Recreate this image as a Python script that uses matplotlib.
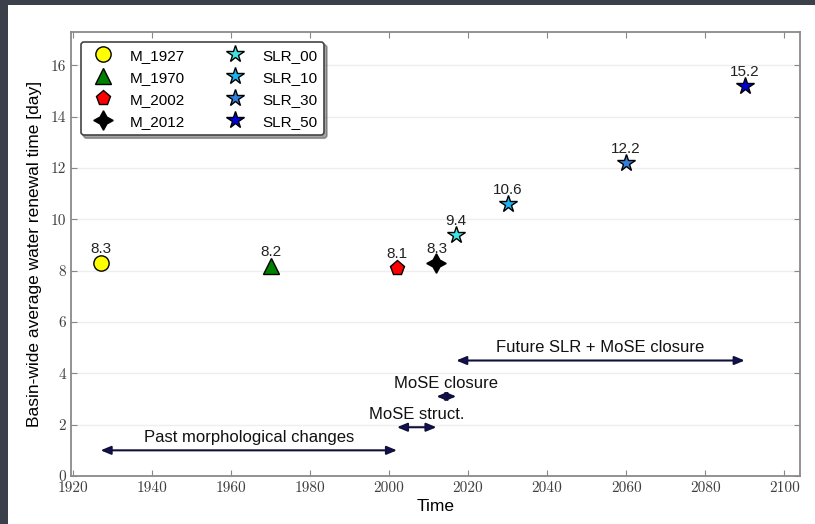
import matplotlib
matplotlib.use("Agg")
import matplotlib.pyplot as plt
from matplotlib.patches import Rectangle

# ---- data ----
names = ["M_1927", "M_1970", "M_2002", "M_2012", "SLR_00", "SLR_10", "SLR_30", "SLR_50"]
years = [1927, 1970, 2002, 2012, 2017, 2030, 2060, 2090]
values = [8.3, 8.2, 8.1, 8.3, 9.4, 10.6, 12.2, 15.2]
markers = ["o", "^", "p", (4, 1, 0), "*", "*", "*", "*"]
colors = ["#ffff00", "#008000", "#ff0000", "#000000", "#3fe3e3", "#1fb2ec", "#3280dc", "#0000dd"]
sizes = [11, 11, 11, 14, 13, 13, 13, 13]

periods = ["Past morphological changes", "MoSE struct.", "MoSE closure", "Future SLR + MoSE closure"]
period_start = [1927, 2002, 2012, 2017]
period_end = [2002, 2012, 2017, 2090]
period_y = [1.0, 1.9, 3.1, 4.5]

xticks = [1920, 1940, 1960, 1980, 2000, 2020, 2040, 2060, 2080, 2100]
yticks = [0, 2, 4, 6, 8, 10, 12, 14, 16]

# ---- figure ----
fig = plt.figure(figsize=(8.15, 5.24), dpi=100, facecolor="#3b404b")
fig.patches.append(Rectangle((8 / 815, 0), 1 - 8 / 815, (524 - 5) / 524,
                             transform=fig.transFigure, facecolor="white",
                             edgecolor="none", zorder=-5))
ax = fig.add_axes([71 / 815, (524 - 476) / 524, (800 - 71) / 815, (476 - 32) / 524])

sans = "Liberation Sans"
for n, x, v, m, c, s in zip(names, years, values, markers, colors, sizes):
    ax.plot([x], [v], linestyle="none", marker=m, markersize=s, markerfacecolor=c,
            markeredgecolor="black", markeredgewidth=1.0, label=n, zorder=3)
    ax.annotate(f"{v}", (x, v), xytext=(0, 5), textcoords="offset points",
                ha="center", va="bottom", fontsize=11, family=sans, color="#222222")

for lab, a, b, y in zip(periods, period_start, period_end, period_y):
    ax.annotate("", xy=(a, y), xytext=(b, y),
                arrowprops=dict(arrowstyle="<|-|>,head_length=0.6,head_width=0.25",
                                fc="#10106a", ec="#10103a", lw=1.5,
                                shrinkA=0, shrinkB=0))
    ax.text((a + b) / 2, y + 0.2, lab, ha="center", va="bottom",
            fontsize=12, family=sans, color="#111111")

ax.set_xlim(1919.5, 2104)
ax.set_ylim(0, 17.3)
ax.set_xticks(xticks)
ax.set_yticks(yticks)
ax.yaxis.grid(True, color="#eeeeee", lw=1)
ax.set_axisbelow(True)
ax.tick_params(direction="in", top=True, right=True, length=4, color="#888888",
               labelsize=11, labelcolor="#404040")
for lbl in ax.get_xticklabels() + ax.get_yticklabels():
    lbl.set_family("cmr10")
for sp in ax.spines.values():
    sp.set_color("#8a8a8a")
    sp.set_linewidth(1.3)

ax.set_xlabel("Time", fontsize=12.5, family=sans, labelpad=3)
ax.set_ylabel("Basin-wide average water renewal time [day]", fontsize=12.5, family=sans, labelpad=6)

leg = ax.legend(loc="upper left", ncol=2, frameon=True, fancybox=True, shadow=True,
                prop={"family": sans, "size": 11}, numpoints=1,
                borderpad=0.45, labelspacing=0.52, columnspacing=2.3, handletextpad=0.75,
                handlelength=2.0, bbox_to_anchor=(0.003, 0.995))
leg.get_frame().set_edgecolor("#444444")
leg.get_frame().set_linewidth(1.2)

fig.savefig("out.png", dpi=100, facecolor=fig.get_facecolor())
